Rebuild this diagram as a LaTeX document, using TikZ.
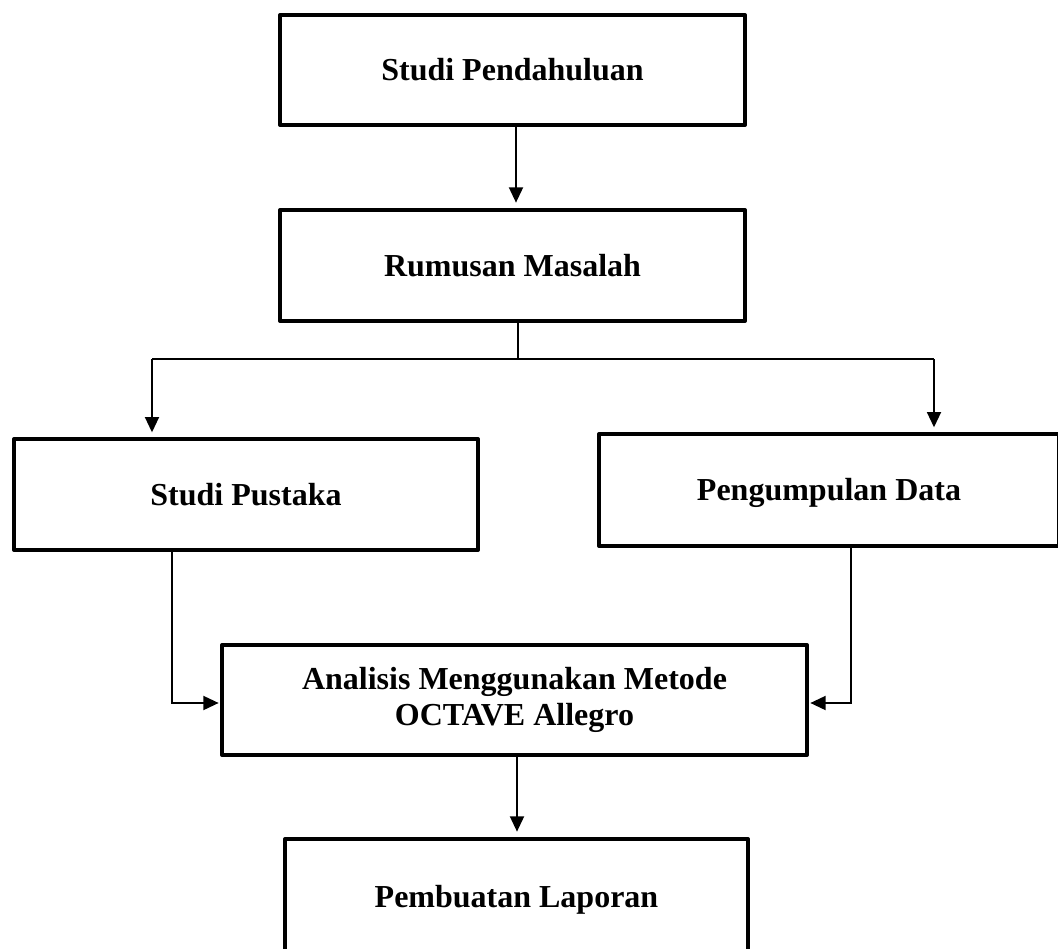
\documentclass[tikz,border=0pt]{standalone}
\usepackage{fontspec}
\setmainfont{Liberation Serif}
\usetikzlibrary{arrows.meta}
\begin{document}
\begin{tikzpicture}[x=0.75pt,y=-0.75pt,
  box/.style={draw=black, line width=3pt, line join=round, inner sep=0pt,
    align=center, font=\bfseries\fontsize{24}{27}\selectfont},
  oneline/.style={text height=16pt, text depth=0pt},
  conn/.style={draw=black, line width=1.4pt},
  arr/.style={conn, -{Triangle[length=11.5pt,width=10.5pt]}}]
\clip (0,0) rectangle (1058,949);
\node[box, oneline, minimum width=348.75pt, minimum height=82.5pt] (b1) at (512.5,70) {Studi Pendahuluan};
\node[box, oneline, minimum width=348.75pt, minimum height=83.25pt] (b2) at (512.5,265.5) {Rumusan Masalah};
\node[box, oneline, minimum width=348pt, minimum height=83.25pt] (b3) at (246,494.5) {Studi Pustaka};
\node[box, oneline, minimum width=345pt, minimum height=84pt] (b4) at (829,490) {Pengumpulan Data};
\node[box, minimum width=438.75pt, minimum height=82.5pt] (b5) at (514.5,700) {Analisis Menggunakan Metode\\OCTAVE Allegro};
\node[box, oneline, minimum width=347.25pt, minimum height=87pt] (b6) at (516.5,897) {Pembuatan Laporan};
% connection coordinates
\coordinate (a1) at (516,0);
\coordinate (split) at (518,359);
\coordinate (j3) at (152,359);
\coordinate (j4) at (934,359);
\coordinate (k3) at (172,703);
\coordinate (k4) at (851,703);
\coordinate (a5) at (517,0);
% connectors
\draw[arr, shorten >=4pt] (b1.south -| a1) -- (b2.north -| a1);
\draw[conn] (b2.south -| split) -- (split);
\draw[conn] (j3) -- (j4);
\draw[arr, shorten >=3.5pt] (j3) -- (j3 |- b3.north);
\draw[arr, shorten >=3.5pt] (j4) -- (j4 |- b4.north);
\draw[arr, shorten >=1pt] (b3.south -| k3) -- (k3) -- (k3 -| b5.west);
\draw[arr, shorten >=1pt] (b4.south -| k4) -- (k4) -- (k4 -| b5.east);
\draw[arr, shorten >=4pt] (b5.south -| a5) -- (b6.north -| a5);
\end{tikzpicture}
\end{document}
